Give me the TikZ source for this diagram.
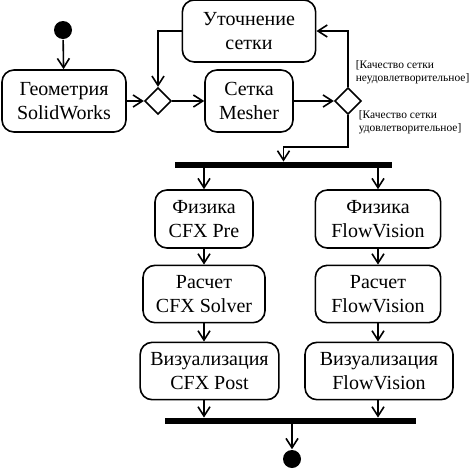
\documentclass[tikz,border=0pt]{standalone}
\usepackage{fontspec}
\setmainfont{Liberation Serif}
\usetikzlibrary{arrows.meta, positioning, shapes.geometric}

\begin{document}
\begin{tikzpicture}[x=0.75pt, y=-0.75pt,
            action/.style={draw, rounded corners=9pt, line width=1.2pt, align=center,
                font=\fontsize{15}{18}\selectfont, inner sep=1pt},
            choice/.style={diamond, draw, line width=1.2pt, minimum width=20pt,
                minimum height=20pt, inner sep=0pt},
            dot/.style={circle, fill, inner sep=0pt, minimum size=13.5pt},
            syncbar/.style={fill, inner sep=0pt, minimum height=4pt},
            guard/.style={font=\fontsize{8.6}{9.5}\selectfont, align=left,
                anchor=north west, inner sep=0pt},
            line width=1.2pt,
            >={Straight Barb[length=7pt, width=9pt]}]

        \useasboundingbox (0,0) rectangle (473,472);

        \node[dot] (start) at (63,30) {};
        \node[action, minimum width=93pt, minimum height=46.5pt] (geom) at (64,101) {Геометрия\\SolidWorks};
        \node[choice] (d1) at (158,101) {};
        \node[action, minimum width=100pt, minimum height=46.5pt] (refine) at (249,31) {Уточнение\\сетки};
        \node[action, minimum width=66pt, minimum height=46.5pt] (mesher) at (249,101) {Сетка\\Mesher};
        \node[choice] (d2) at (348,101) {};
        \node[guard] (bad) at (355,60) {[Качество сетки\\неудовлетворительное]};
        \node[guard] (good) at (358,110) {[Качество сетки\\удовлетворительное]};

        \node[syncbar, minimum width=163pt] (fork) at (283.5,165) {};

        \node[action, minimum width=73.5pt, minimum height=43.5pt] (preA) at (204,219) {Физика\\CFX Pre};
        \node[action, minimum width=94pt, minimum height=43.5pt] (preB) at (378,219) {Физика\\FlowVision};
        \node[action, minimum width=91.5pt, minimum height=43pt] (solA) at (204,294) {Расчет\\CFX Solver};
        \node[action, minimum width=94pt, minimum height=43pt] (solB) at (378,294) {Расчет\\FlowVision};
        \node[action, minimum width=104pt, minimum height=43pt] (visA) at (209.5,371) {Визуализация\\CFX Post};
        \node[action, minimum width=111pt, minimum height=43pt] (visB) at (379,371) {Визуализация\\FlowVision};

        \node[syncbar, minimum width=188pt] (join) at (290.5,421) {};
        \node[dot] (end) at (292,459) {};

        \draw[->] (start) -- (geom);
        \draw[->] (geom) -- (d1);
        \draw[->] (d1) -- (mesher);
        \draw[->] (refine.west) -| (d1.north);
        \draw[->] (mesher) -- (d2);
        \draw[->] (d2.north) |- (refine.east);
        \draw[->] (d2.south) -- ++(0,32) -| (fork.north);

        \draw[->] (fork.south -| preA) -- (preA);
        \draw[->] (fork.south -| preB) -- (preB);
        \draw[->] (preA) -- (solA);
        \draw[->] (preB) -- (solB);
        \draw[->] (solA) -- (solA |- visA.north);
        \draw[->] (solB) -- (visB.north -| solB);
        \draw[->] (solA |- visA.south) -- (solA |- join.north);
        \draw[->] (solB |- visB.south) -- (solB |- join.north);
        \draw[->] (join.south -| end) -- (end);

    \end{tikzpicture}
\end{document}
